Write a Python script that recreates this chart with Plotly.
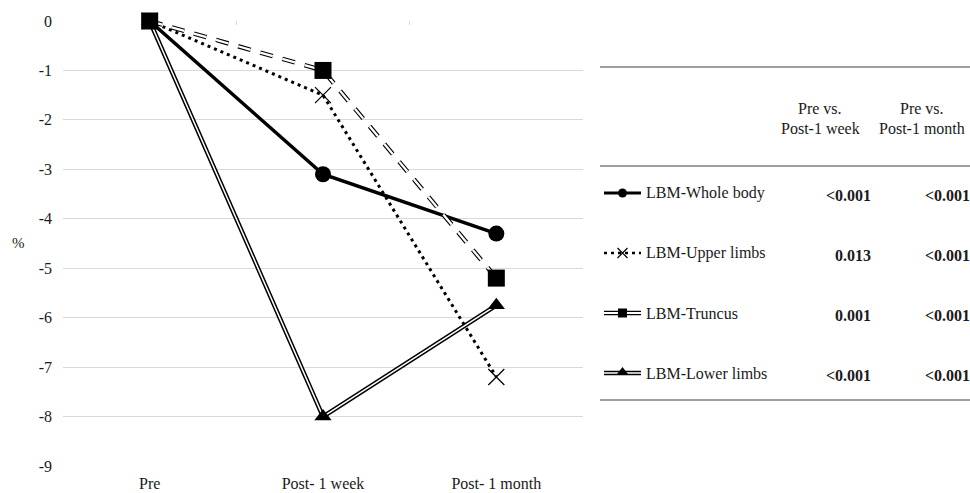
import plotly.graph_objects as go

# ---- data ----
timepoints = ["Pre", "Post- 1 week", "Post- 1 month"]
series_names = ["LBM-Whole body", "LBM-Upper limbs", "LBM-Truncus", "LBM-Lower limbs"]
whole_body = [0, -3.1, -4.3]
upper_limbs = [0, -1.5, -7.2]
truncus = [0, -1.0, -5.2]
lower_limbs = [0, -8.0, -5.75]
p_week = ["<0.001", "0.013", "0.001", "<0.001"]
p_month = ["<0.001", "<0.001", "<0.001", "<0.001"]
y_ticks = list(range(0, -10, -1))
y_ticktext = ["0", "-1", "-2", "-3", "-4", "-5", "-6", "-7", "-8", "-9"]

W, H = 970, 493
FONT = "Liberation Serif, Times New Roman, serif"
GRID = "#d9d9d9"
TXT = "#1a1a1a"

fig = go.Figure()

# ---- main chart traces ----
fig.add_trace(go.Scatter(x=timepoints, y=lower_limbs, mode="lines",
                         line=dict(color="black", width=4.5), cliponaxis=False,
                         showlegend=False, hoverinfo="skip"))
fig.add_trace(go.Scatter(x=timepoints, y=lower_limbs, mode="lines+markers",
                         line=dict(color="white", width=1.5), cliponaxis=False,
                         marker=dict(symbol="triangle-up", size=15, color="black"),
                         name=series_names[3], showlegend=False))
fig.add_trace(go.Scatter(x=timepoints, y=whole_body, mode="lines+markers",
                         line=dict(color="black", width=3.5), cliponaxis=False,
                         marker=dict(symbol="circle", size=16, color="black"),
                         name=series_names[0], showlegend=False))
fig.add_trace(go.Scatter(x=timepoints, y=upper_limbs, mode="lines+markers",
                         line=dict(color="black", width=3, dash="3px,4px"), cliponaxis=False,
                         marker=dict(symbol="x-thin-open", size=16, color="black",
                                     line=dict(color="black", width=1.2)),
                         name=series_names[1], showlegend=False))
fig.add_trace(go.Scatter(x=timepoints, y=truncus, mode="lines",
                         line=dict(color="black", width=4.5, dash="13px,10px"), cliponaxis=False,
                         showlegend=False, hoverinfo="skip"))
fig.add_trace(go.Scatter(x=timepoints, y=truncus, mode="lines",
                         line=dict(color="white", width=2.3, dash="13px,10px"), cliponaxis=False,
                         showlegend=False, hoverinfo="skip"))
fig.add_trace(go.Scatter(x=timepoints, y=truncus, mode="markers", cliponaxis=False,
                         marker=dict(symbol="square", size=17, color="black"),
                         name=series_names[2], showlegend=False))

# ---- table (pixel-coordinate axes) ----
row_y = [193, 253, 313, 373]
lx0, lx1, lxm = 604, 641, 622.5

def leg(x, y, **kw):
    fig.add_trace(go.Scatter(x=x, y=y, xaxis="x3", yaxis="y3", showlegend=False,
                             hoverinfo="skip", cliponaxis=False, **kw))

leg([lx0, lx1], [row_y[0]] * 2, mode="lines", line=dict(color="black", width=3))
leg([lxm], [row_y[0]], mode="markers", marker=dict(symbol="circle", size=9, color="black"))
leg([lx0, lx1], [row_y[1]] * 2, mode="lines", line=dict(color="black", width=2.5, dash="3px,4px"))
leg([lxm], [row_y[1]], mode="markers",
    marker=dict(symbol="x-thin-open", size=10, color="black", line=dict(color="black", width=1.2)))
leg([lx0, lx1], [row_y[2]] * 2, mode="lines", line=dict(color="black", width=4.5))
leg([lx0, lx1], [row_y[2]] * 2, mode="lines", line=dict(color="white", width=2))
leg([lxm], [row_y[2]], mode="markers", marker=dict(symbol="square", size=9, color="black"))
leg([lx0, lx1], [row_y[3]] * 2, mode="lines", line=dict(color="black", width=4.5))
leg([lx0, lx1], [row_y[3]] * 2, mode="lines", line=dict(color="white", width=1.5))
leg([lxm], [row_y[3] - 1], mode="markers", marker=dict(symbol="triangle-up", size=10, color="black"))

shapes = []
for yy in [67, 166, 400]:
    shapes.append(dict(type="line", xref="x3", yref="y3", x0=600, x1=970, y0=yy, y1=yy,
                       line=dict(color="#404040", width=1.2)))

ann = []
for cx, l2 in [(820, "Post-1 week"), (922, "Post-1 month")]:
    ann.append(dict(xref="x3", yref="y3", x=cx, y=108, text="Pre vs.", showarrow=False,
                    font=dict(size=16, family=FONT, color=TXT), xanchor="center", yanchor="middle"))
    ann.append(dict(xref="x3", yref="y3", x=cx, y=128, text=l2, showarrow=False,
                    font=dict(size=16, family=FONT, color=TXT), xanchor="center", yanchor="middle"))
for i, name in enumerate(series_names):
    ann.append(dict(xref="x3", yref="y3", x=644, y=row_y[i], text=name, showarrow=False,
                    font=dict(size=16, family=FONT, color=TXT), xanchor="left", yanchor="middle"))
    ann.append(dict(xref="x3", yref="y3", x=873, y=row_y[i] + 2, text="<b>%s</b>" % p_week[i].replace("<", "&lt;"),
                    showarrow=False, font=dict(size=16, family=FONT, color=TXT),
                    xanchor="right", yanchor="middle"))
    ann.append(dict(xref="paper", yref="paper", x=1.0, y=1 - (row_y[i] + 2) / H,
                    text="<b>%s</b>" % p_month[i].replace("<", "&lt;"),
                    showarrow=False, font=dict(size=16, family=FONT, color=TXT),
                    xanchor="right", yanchor="middle", xshift=2))
ann.append(dict(xref="paper", yref="paper", x=18 / W, y=1 - 243 / H, text="%", showarrow=False,
                font=dict(size=15, family=FONT, color=TXT), xanchor="center", yanchor="middle"))

fig.update_layout(
    width=W, height=H,
    margin=dict(l=0, r=0, t=0, b=0, autoexpand=False),
    paper_bgcolor="white", plot_bgcolor="rgba(0,0,0,0)",
    font=dict(family=FONT, size=16, color=TXT),
    showlegend=False,
    xaxis=dict(domain=[63 / W, 583 / W], type="category", categoryorder="array",
               categoryarray=timepoints, range=[-0.5, 2.5], showgrid=False, zeroline=False,
               showline=False, ticks="", ticklabelstandoff=6, automargin=False,
               tickfont=dict(size=16, family=FONT, color=TXT), anchor="y"),
    yaxis=dict(domain=[1 - 466 / H, 1 - 21 / H], range=[-9, 0], tickvals=y_ticks,
               ticktext=y_ticktext,
               showgrid=True, gridcolor=GRID, gridwidth=1, zeroline=False, showline=False,
               ticks="", ticklabelstandoff=10, automargin=False,
               tickfont=dict(size=16, family=FONT, color=TXT), anchor="x"),
    xaxis2=dict(overlaying="x", side="top", anchor="y", range=[-0.5, 2.5], tickvals=[0.5, 1.5],
                showticklabels=False, ticks="inside", ticklen=4, tickcolor=GRID, tickwidth=1,
                showgrid=False, zeroline=False, showline=False, automargin=False),
    xaxis3=dict(domain=[0, 1], range=[0, W], visible=False, anchor="y3"),
    yaxis3=dict(domain=[0, 1], range=[H, 0], visible=False, anchor="x3"),
    shapes=shapes, annotations=ann,
)
fig.add_trace(go.Scatter(x=[0], y=[None], xaxis="x2", yaxis="y", showlegend=False, hoverinfo="skip"))

fig.write_html("out.html")
